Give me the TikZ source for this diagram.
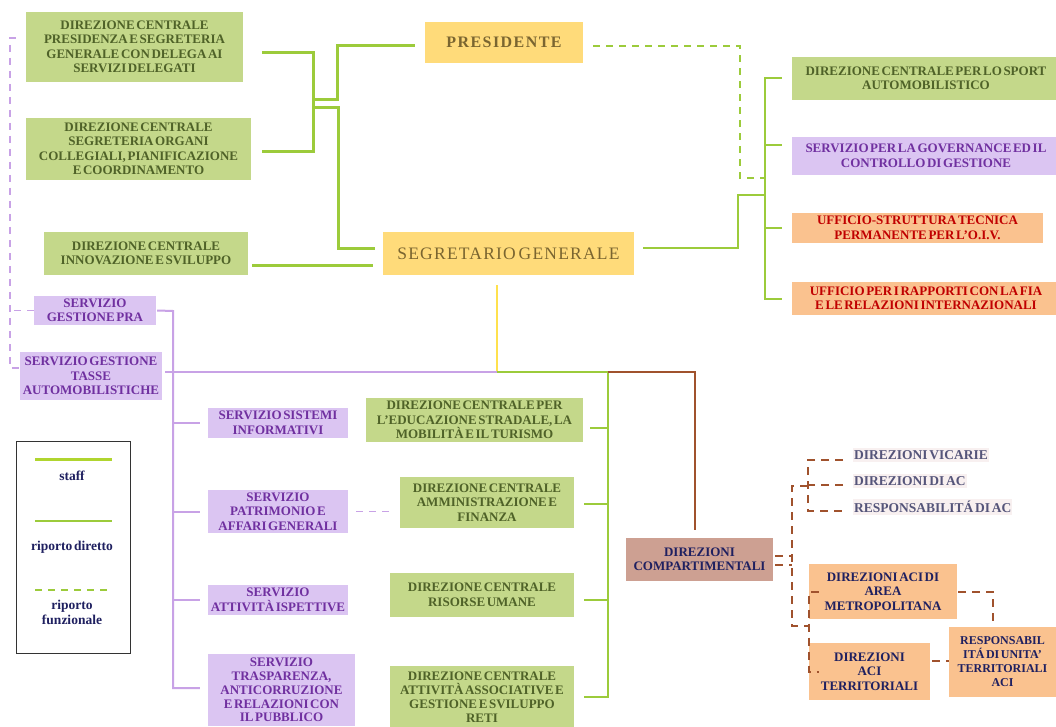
\documentclass[tikz,border=0pt]{standalone}
\usepackage{fontspec}
\setmainfont[WordSpace=0.5]{Liberation Serif}
\definecolor{gfill}{HTML}{C4D88A}
\definecolor{gtext}{HTML}{4F6228}
\definecolor{yfill}{HTML}{FFDB7A}
\definecolor{ytext}{HTML}{7A6530}
\definecolor{pfill}{HTML}{DBC5F2}
\definecolor{ptext}{HTML}{7030A0}
\definecolor{pline}{HTML}{C8A2E6}
\definecolor{ofill}{HTML}{FAC28F}
\definecolor{rtext}{HTML}{C00000}
\definecolor{navy}{HTML}{1F2060}
\definecolor{bfill}{HTML}{CDA092}
\definecolor{bline}{HTML}{A0522D}
\definecolor{gline}{HTML}{9CCB3B}
\definecolor{yline}{HTML}{FFE14D}
\definecolor{vfill}{HTML}{F8F0F0}
\definecolor{vtext}{HTML}{55557A}
\tikzset{
  base/.style={inner sep=0pt, align=center, font=\bfseries\fontsize{13}{14.5}\selectfont},
  gbox/.style={base, fill=gfill, text=gtext},
  pbox/.style={base, fill=pfill, text=ptext},
  obox/.style={base, fill=ofill, text=rtext},
  nbox/.style={base, fill=ofill, text=navy},
  ybox/.style={inner sep=0pt, fill=yfill, text=ytext},
  vbox/.style={base, anchor=west, fill=vfill, text=vtext, inner xsep=1pt, inner ysep=2pt, font=\bfseries\fontsize{13.5}{15}\selectfont},
  legtext/.style={base, text=navy, font=\bfseries\fontsize{13.5}{15}\selectfont},
  staff/.style={draw=gline, line width=3pt},
  dir/.style={draw=gline, line width=2pt},
  func/.style={draw=gline, line width=2pt, dash pattern=on 7pt off 6pt},
  purp/.style={draw=pline, line width=2pt},
  purpd/.style={draw=pline, line width=1.6pt, dash pattern=on 7pt off 6pt},
  yel/.style={draw=yline, line width=2pt},
  brn/.style={draw=bline, line width=2pt},
  brnd/.style={draw=bline, line width=2pt, dash pattern=on 8pt off 6pt},
}
\begin{document}
\begin{tikzpicture}[x=1pt,y=-1pt]
\useasboundingbox (0,0) rectangle (1056,727);
\fill[white] (0,0) rectangle (1056,727);
% top-left green boxes
\node[gbox, minimum width=217, minimum height=70] (presid) at (134.5,47) {DIREZIONE CENTRALE\\PRESIDENZA E SEGRETERIA\\GENERALE CON DELEGA AI\\SERVIZI DELEGATI};
\node[gbox, minimum width=225, minimum height=62] (segorg) at (138.5,149) {DIREZIONE CENTRALE\\SEGRETERIA ORGANI\\COLLEGIALI, PIANIFICAZIONE\\E COORDINAMENTO};
\node[gbox, minimum width=204, minimum height=43] (innov) at (146,253.5) {DIREZIONE CENTRALE\\INNOVAZIONE E SVILUPPO};
% yellow
\node[ybox, minimum width=158, minimum height=41, font=\bfseries\fontsize{16}{18}\selectfont\addfontfeature{LetterSpace=9}] (pres) at (504,42.5) {PRESIDENTE};
\node[ybox, minimum width=251, minimum height=43, font=\fontsize{17.5}{19}\selectfont\addfontfeature{LetterSpace=7}] (sg) at (508.5,253.5) {SEGRETARIO GENERALE};
% right column
\node[gbox, minimum width=268, minimum height=43] (sport) at (926,78.5) {DIREZIONE CENTRALE PER LO SPORT\\AUTOMOBILISTICO};
\node[pbox, minimum width=268, minimum height=38] (gov) at (926,156) {SERVIZIO PER LA GOVERNANCE ED IL\\CONTROLLO DI GESTIONE};
\node[obox, minimum width=251, minimum height=30] (oiv) at (917.5,228) {UFFICIO-STRUTTURA TECNICA\\PERMANENTE PER L'O.I.V.};
\node[obox, minimum width=268, minimum height=33] (fia) at (926,298.5) {UFFICIO PER I RAPPORTI CON LA FIA\\E LE RELAZIONI INTERNAZIONALI};
% purple services
\node[pbox, minimum width=122, minimum height=29] (pra) at (95,310.5) {SERVIZIO\\GESTIONE PRA};
\node[pbox, minimum width=142, minimum height=48] (tasse) at (91,376) {SERVIZIO GESTIONE\\TASSE\\AUTOMOBILISTICHE};
\node[pbox, minimum width=140, minimum height=30] (sistemi) at (278,423) {SERVIZIO SISTEMI\\INFORMATIVI};
\node[pbox, minimum width=140, minimum height=43] (patrim) at (278,511.5) {SERVIZIO\\PATRIMONIO E\\AFFARI GENERALI};
\node[pbox, minimum width=140, minimum height=30] (ispett) at (278,600) {SERVIZIO\\ATTIVITÀ ISPETTIVE};
\node[pbox, minimum width=147, minimum height=72, font=\bfseries\fontsize{13}{13.8}\selectfont] (traspar) at (281.5,690) {SERVIZIO\\TRASPARENZA,\\ANTICORRUZIONE\\E RELAZIONI CON\\IL PUBBLICO};
% central directorates
\node[gbox, minimum width=217, minimum height=44] (educ) at (474.5,420) {DIREZIONE CENTRALE PER\\L'EDUCAZIONE STRADALE, LA\\MOBILITÀ E IL TURISMO};
\node[gbox, minimum width=174, minimum height=51] (amm) at (487,502.5) {DIREZIONE CENTRALE\\AMMINISTRAZIONE E\\FINANZA};
\node[gbox, minimum width=184, minimum height=44] (risorse) at (482,595) {DIREZIONE CENTRALE\\RISORSE UMANE};
\node[gbox, minimum width=184, minimum height=62, font=\bfseries\fontsize{13}{14}\selectfont] (assoc) at (482,697) {DIREZIONE CENTRALE\\ATTIVITÀ ASSOCIATIVE E\\GESTIONE E SVILUPPO\\RETI};
% compartimentali
\node[base, fill=bfill, text=navy, minimum width=147, minimum height=43] (comp) at (699.5,559.5) {DIREZIONI\\COMPARTIMENTALI};
\node[vbox] (vicarie) at (853,455) {DIREZIONI VICARIE};
\node[vbox] (dirac) at (853,481) {DIREZIONI DI AC};
\node[vbox] (respac) at (853,507) {RESPONSABILITÁ DI AC};
\node[nbox, minimum width=148, minimum height=55] (metro) at (883,591.5) {DIREZIONI ACI DI\\AREA\\METROPOLITANA};
\node[nbox, minimum width=121, minimum height=57] (territ) at (869.5,671.5) {DIREZIONI\\ACI\\TERRITORIALI};
\node[nbox, minimum width=107, minimum height=70, font=\bfseries\fontsize{12}{14}\selectfont] (respunit) at (1002.5,662) {RESPONSABIL\\ITÁ DI UNITA'\\TERRITORIALI\\ACI};
% legend
\node[draw=black!80, line width=1pt, minimum width=114, minimum height=212, inner sep=0pt] (legend) at (73,547) {};
\node[legtext] (lstaff) at (72,476) {staff};
\node[legtext] (ldir) at (72,547) {riporto diretto};
\node[legtext] (lfun) at (72,612) {riporto\\funzionale};
\draw[draw=gline!80!yellow, line width=3pt] ([xshift=-37,yshift=17]lstaff.center) -- ([xshift=40,yshift=17]lstaff.center);
\draw[dir] ([xshift=-37,yshift=26]ldir.center) -- ([xshift=40,yshift=26]ldir.center);
\draw[func] ([xshift=-37,yshift=22]lfun.center) -- ([xshift=40,yshift=22]lfun.center);

% ---- connectors ----
\coordinate (j1) at (313,100);
\draw[staff] ([xshift=19,yshift=-6]presid.east) -| (j1);
\draw[staff] ([xshift=11,yshift=-3]segorg.east) -| (j1);
\draw[staff] (j1) -- ++(24,0) |- ([xshift=-10,yshift=-3.5]pres.west);
\draw[staff] ([yshift=-8]j1) -- ++(25,0) |- ([xshift=-8,yshift=5.5]sg.west);
\draw[staff] ([xshift=4,yshift=-11.5]innov.east) -- ([xshift=-10,yshift=-11.5]sg.west);
% right bracket
\coordinate (rj) at (765,195);
\draw[dir] ([xshift=-10]sport.west) -- ++(-17,0) |- ([xshift=-10]fia.west);
\draw[dir] ([xshift=-10,yshift=11]gov.west) -- ++(-17,0);
\draw[dir] ([xshift=-10]oiv.west) -- ++(-17,0);
\draw[dir] ([xshift=9,yshift=5.5]sg.east) -| ([xshift=-27]rj) -- (rj);
\draw[func] ([xshift=10,yshift=-3.5]pres.east) -| ([xshift=-25,yshift=17]rj) -- ([yshift=17]rj);
% central spine
\coordinate (hub) at (497,372);
\coordinate (gv) at (608,372);
\draw[yel] (hub |- sg.south) ++(0,10) -- (hub);
\draw[purp] ([xshift=3,yshift=4]tasse.east) -- (hub);
\draw[dir] (hub) -- (gv);
\draw[dir] (gv) |- ([xshift=10]assoc.east);
\draw[dir] ([xshift=7,yshift=-8]educ.east) -- ([yshift=-8]educ.east -| gv);
\draw[dir] ([xshift=10,yshift=-1.5]amm.east) -- ([yshift=-1.5]amm.east -| gv);
\draw[dir] ([xshift=10,yshift=-5]risorse.east) -- ([yshift=-5]risorse.east -| gv);
\draw[brn] (gv) -| ([xshift=-4.5,yshift=8]comp.north);
% purple tree
\coordinate (pv) at (173,311);
\draw[purp] ([xshift=1]pra.east) -- (pv) |- ([xshift=-8,yshift=2]traspar.west);
\draw[purp] ([xshift=-8]sistemi.west) -- (sistemi.west -| pv);
\draw[purp] ([xshift=-8]patrim.west) -- (patrim.west -| pv);
\draw[purp] ([xshift=-8]ispett.west) -- (ispett.west -| pv);
% purple dashed
\coordinate (pdv) at (10,300);
\draw[purpd] ([xshift=-10,yshift=9]presid.west) -- ++(-6,0) |- ([yshift=8]tasse.west);
\draw[purpd] (pra.west) -- (pra.west -| pdv);
\draw[purpd] ([xshift=8]patrim.east) -- ([xshift=-10]patrim.east -| amm.west);
% brown dashed
\coordinate (b1) at (792,486);
\coordinate (b2) at (808,486);
\draw[brnd] ([xshift=2,yshift=3.5]comp.east) -- ([yshift=3.5]comp.east -| b1);
\draw[brnd] ([xshift=2,yshift=-5.5]comp.east) -- ([yshift=-5.5]comp.east -| b1);
\draw[brnd] (b2) -- (b1) -- (792,626) -- (808,626);
\draw[brnd] ([xshift=-10,yshift=-5]vicarie.west) -| ([yshift=-4]b2 |- respac.west) -- ([xshift=-10,yshift=-4]respac.west);
\draw[brnd] ([xshift=-10,yshift=-4]dirac.west) -- ([yshift=-4]dirac.west -| b2);
\draw[brnd] ([xshift=10]metro.west) -- (metro.west) -- (territ.west) -- ([xshift=10]territ.west);
\draw[brnd] ([xshift=1]metro.east) -| ([xshift=-10,yshift=3]respunit.north);
\draw[brnd] ([xshift=2,yshift=11]territ.east) -- ([yshift=11]territ.east -| respunit.west);
\end{tikzpicture}
\end{document}
